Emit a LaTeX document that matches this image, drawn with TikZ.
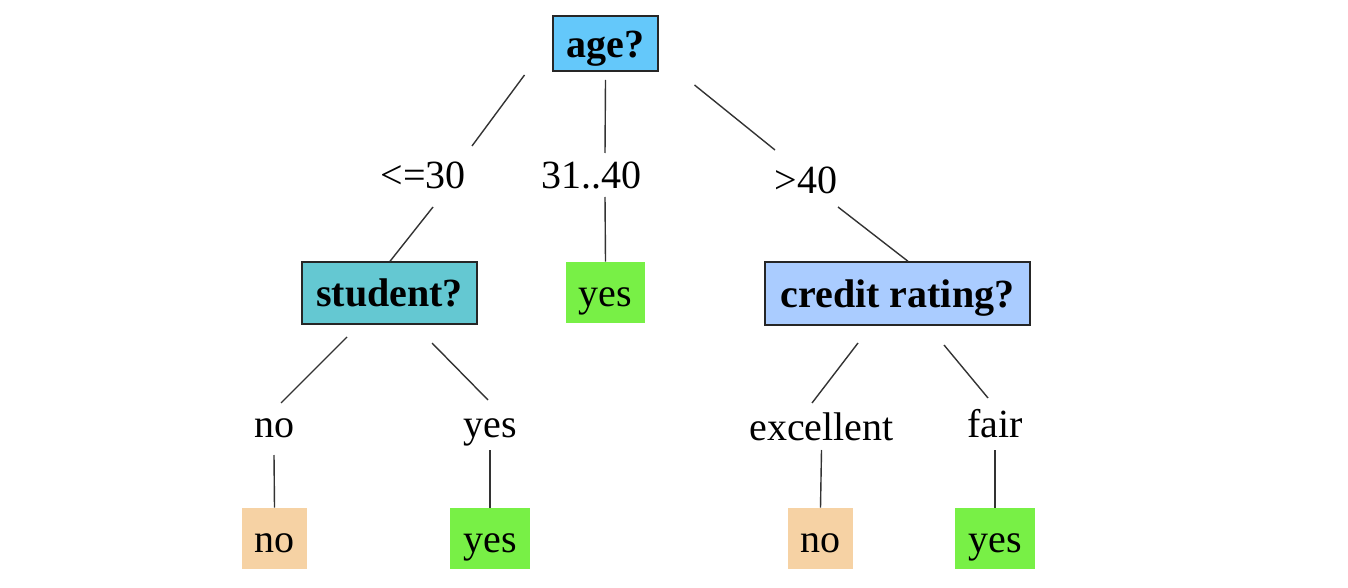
\documentclass[tikz,border=0pt]{standalone}
\usepackage{fontspec}
\setmainfont{Liberation Serif}
\usepackage{xcolor}
\usepackage{tikz}
\usetikzlibrary{positioning}

\definecolor{agecol}{RGB}{100,200,250}
\definecolor{studcol}{RGB}{100,200,210}
\definecolor{credcol}{RGB}{170,204,255}
\definecolor{yescol}{RGB}{120,240,70}
\definecolor{nocol}{RGB}{246,210,164}

\begin{document}
\begin{tikzpicture}[
        x=0.5pt, y=-0.5pt,
        base/.style={align=center, font=\fontsize{20}{24}\selectfont, inner sep=0pt},
        decision/.style={base, draw=black!85, line width=0.7pt, font=\fontsize{20}{24}\selectfont\bfseries, text height=1.4em, text depth=0pt},
        leaf/.style={base, minimum height=30.5pt, text height=1.4em, text depth=0pt},
        branch/.style={base, text height=1.25em, text depth=0.2em},
        edge/.style={draw=black!80, line width=0.7pt}
    ]
        \useasboundingbox (0,0) rectangle (1348,588);

        % tests
        \node[decision, fill=agecol, minimum width=52.5pt, minimum height=27.5pt] (age) at (605.5,43.5) {age?};
        \node[decision, fill=studcol, minimum width=87.5pt, minimum height=31pt] (student) at (389.5,293) {student?};
        \node[decision, fill=credcol, minimum width=132.5pt, minimum height=31.5pt] (credit) at (897.5,293.5) {credit rating?};

        % branch values
        \node[branch] (le30) at (423,178) {<=30};
        \node[branch] (mid) at (591,178) {31..40};
        \node[branch] (gt40) at (806,183) {>40};
        \node[branch] (sno) at (274,427) {no};
        \node[branch] (syes) at (490,427) {yes};
        \node[branch] (cexc) at (821.5,430) {excellent};
        \node[branch] (cfair) at (995,427) {fair};

        % leaves
        \node[leaf, fill=yescol, minimum width=39.5pt] (midyes) at (605.5,292.5) {yes};
        \node[leaf, fill=nocol, minimum width=32.5pt] (leafa) at (274.5,538.5) {no};
        \node[leaf, fill=yescol, minimum width=40pt] (leafb) at (490,538.5) {yes};
        \node[leaf, fill=nocol, minimum width=32.5pt] (leafc) at (820.5,538.5) {no};
        \node[leaf, fill=yescol, minimum width=40pt] (leafd) at (995,538.5) {yes};

        \draw[edge] ([shift={(-81,31.5)}]age.center) -- ([shift={(49,-32)}]le30.center);
        \draw[edge] ([shift={(10,29)}]le30.center) -- ([shift={(0.5,0)}]student.north);
        \draw[edge] ([shift={(0,36.5)}]age.center) -- ([shift={(14,-25)}]mid.center);
        \draw[edge] ([shift={(14,19)}]mid.center) -- (midyes.north);
        \draw[edge] ([shift={(89,41.5)}]age.center) -- ([shift={(-31,-33)}]gt40.center);
        \draw[edge] ([shift={(32,24)}]gt40.center) -- ([shift={(10.5,0)}]credit.north);

        \draw[edge] ([shift={(-42.5,44)}]student.center) -- ([shift={(7,-24)}]sno.center);
        \draw[edge] ([shift={(0,28)}]sno.center) -- (leafa.north);
        \draw[edge] ([shift={(42.5,50)}]student.center) -- ([shift={(-2,-27)}]syes.center);
        \draw[edge] ([shift={(0,23)}]syes.center) -- (leafb.north);

        \draw[edge] ([shift={(-39.5,49.5)}]credit.center) -- ([shift={(-9.5,-27)}]cexc.center);
        \draw[edge] ([shift={(0,20)}]cexc.center) -- (leafc.north);
        \draw[edge] ([shift={(46.5,51.5)}]credit.center) -- ([shift={(-7,-29)}]cfair.center);
        \draw[edge] ([shift={(0,23)}]cfair.center) -- (leafd.north);

    \end{tikzpicture}
\end{document}
